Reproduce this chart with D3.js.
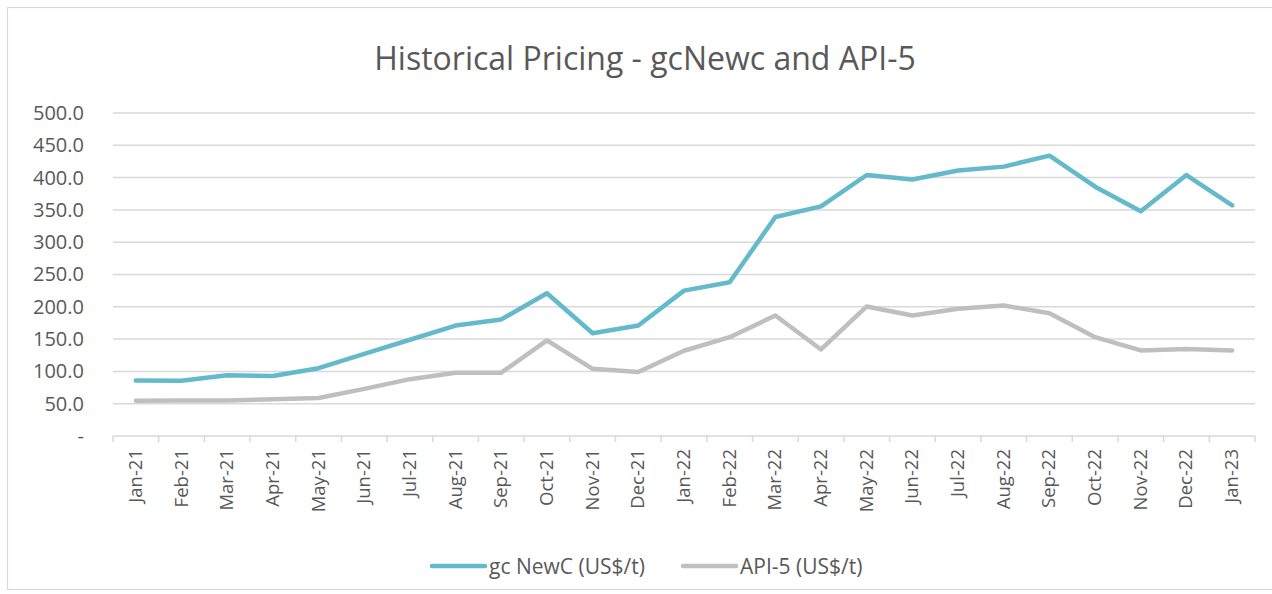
<!DOCTYPE html>
<html>
<head>
<meta charset="utf-8">
<script src="https://cdn.jsdelivr.net/npm/d3@7"></script>
<style>
  body { margin: 0; background: #fff; }
  svg { display: block; font-family: "Open Sans", sans-serif; }
</style>
</head>
<body>
<svg id="chart" width="1272" height="594"></svg>
<script>
// categories (months)
const months = ["Jan-21","Feb-21","Mar-21","Apr-21","May-21","Jun-21","Jul-21","Aug-21","Sep-21","Oct-21","Nov-21","Dec-21",
  "Jan-22","Feb-22","Mar-22","Apr-22","May-22","Jun-22","Jul-22","Aug-22","Sep-22","Oct-22","Nov-22","Dec-22","Jan-23"];

// gc NewC (US$/t)
const gcNewc = [86, 85.5, 94, 93, 105, 127, 149, 171, 180.5, 221, 159, 171,
  225, 238, 339, 355.5, 404, 397, 411, 417, 434, 386, 348, 404, 357];

// API-5 (US$/t)
const api5 = [54.6, 55, 55, 56.7, 58.7, 73, 88, 98, 98, 148, 104, 99,
  132, 153, 186.5, 134, 200.5, 186.5, 197, 202, 190, 153, 132.5, 134.5, 132.5];

const yTicks = [0, 50, 100, 150, 200, 250, 300, 350, 400, 450, 500];

const seriesNames = ["gc NewC (US$/t)", "API-5 (US$/t)"];
const colors = ["#64b9ca", "#bfbfbf"];

const svg = d3.select("#chart");
const margin = { top: 113, right: 17, bottom: 158, left: 113 };
const W = +svg.attr("width"), H = +svg.attr("height");
const width = W - margin.left - margin.right;
const height = H - margin.top - margin.bottom;

// chart border
svg.append("rect")
  .attr("x", 7.5).attr("y", 7.5)
  .attr("width", W).attr("height", H - 12)
  .attr("fill", "none").attr("stroke", "#d9d9d9").attr("stroke-width", 1.2);

// title
svg.append("text")
  .attr("x", 645).attr("y", 70)
  .attr("text-anchor", "middle")
  .style("font-size", "32px")
  .style("fill", "#595959")
  .text("Historical Pricing - gcNewc and API-5");

const g = svg.append("g").attr("transform", `translate(${margin.left},${margin.top})`);

const x = d3.scaleBand().domain(months).range([0, width]).padding(0);
const y = d3.scaleLinear().domain([0, 500]).range([height, 0]);

// gridlines
g.append("g")
  .selectAll("line")
  .data(yTicks.filter(d => d > 0))
  .join("line")
  .attr("x1", 0).attr("x2", width)
  .attr("y1", d => y(d)).attr("y2", d => y(d))
  .attr("stroke", "#d9d9d9").attr("stroke-width", 1.5);

// y labels
g.append("g")
  .call(d3.axisLeft(y).tickValues(yTicks).tickSize(0).tickPadding(29)
    .tickFormat(d => d === 0 ? "-" : d3.format(".1f")(d)))
  .call(s => s.select(".domain").remove())
  .selectAll("text")
  .style("font-family", "Open Sans, sans-serif")
  .style("font-size", "20px")
  .style("fill", "#595959");

// x axis line
g.append("line")
  .attr("x1", 0).attr("x2", width)
  .attr("y1", height).attr("y2", height)
  .attr("stroke", "#d9d9d9").attr("stroke-width", 1.5);

// category boundary ticks
const bounds = months.map(m => x(m)).concat([width]);
g.append("g")
  .selectAll("line")
  .data(bounds)
  .join("line")
  .attr("x1", d => d).attr("x2", d => d)
  .attr("y1", height).attr("y2", height + 6)
  .attr("stroke", "#d9d9d9").attr("stroke-width", 1.5);

// x labels
g.append("g")
  .selectAll("text")
  .data(months)
  .join("text")
  .attr("transform", d => `translate(${x(d) + x.bandwidth() / 2 + 6},${height + 13}) rotate(-90)`)
  .attr("text-anchor", "end")
  .style("font-size", "18.5px")
  .style("fill", "#595959")
  .text(d => d);

// lines
const line = d3.line()
  .x((d, i) => x(months[i]) + x.bandwidth() / 2)
  .y(d => y(d));

[gcNewc, api5].forEach((vals, i) => {
  g.append("path")
    .datum(vals)
    .attr("d", line)
    .attr("fill", "none")
    .attr("stroke", colors[i])
    .attr("stroke-width", 4.5)
    .attr("stroke-linejoin", "round")
    .attr("stroke-linecap", "round");
});

// legend
const legendX = [432, 683];
seriesNames.forEach((name, i) => {
  const lg = svg.append("g").attr("transform", `translate(${legendX[i]},566)`);
  lg.append("line")
    .attr("x1", 0).attr("x2", 53)
    .attr("stroke", colors[i]).attr("stroke-width", 4.5)
    .attr("stroke-linecap", "round");
  lg.append("text")
    .attr("x", 57).attr("y", 7.5)
    .style("font-size", "21px")
    .style("fill", "#595959")
    .text(name);
});
</script>
</body>
</html>
